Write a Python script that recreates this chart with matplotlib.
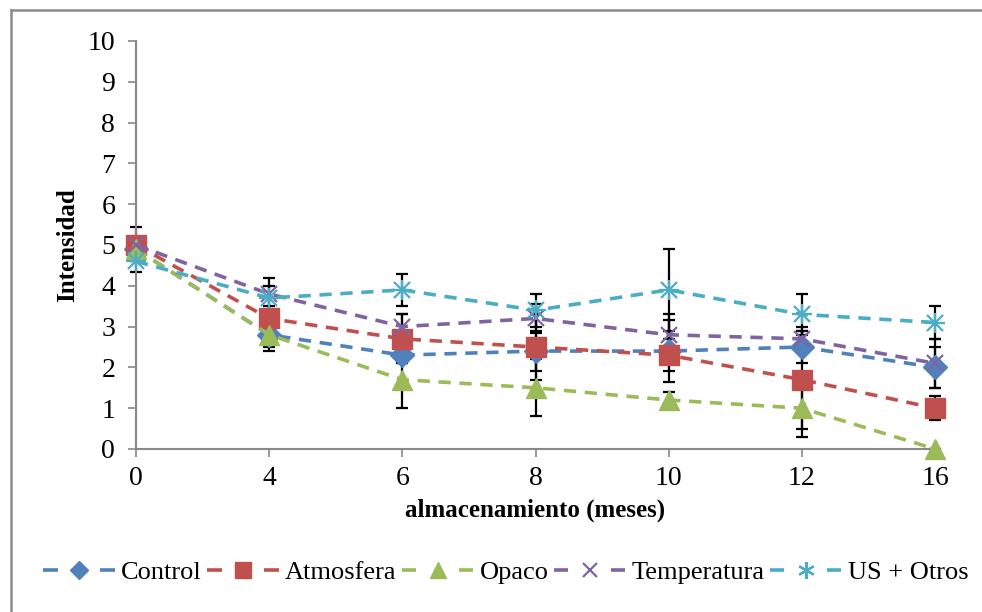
import matplotlib
matplotlib.use("Agg")
import matplotlib.pyplot as plt
from matplotlib.lines import Line2D
from matplotlib.legend_handler import HandlerBase
import numpy as np

months = ["0", "4", "6", "8", "10", "12", "16"]

control = [4.9, 2.8, 2.3, 2.4, 2.4, 2.5, 2.0]
atmosfera = [5.0, 3.2, 2.7, 2.5, 2.3, 1.7, 1.0]
opaco = [4.9, 2.8, 1.7, 1.5, 1.2, 1.0, 0.0]
temperatura = [5.0, 3.8, 3.0, 3.2, 2.8, 2.7, 2.1]
us_otros = [4.6, 3.7, 3.9, 3.4, 3.9, 3.3, 3.1]

err_control = [0.55, 0.4, 0.2, 0.5, 0.75, 0.4, 0.5]
err_atmosfera = [0.0, 0.3, 0.6, 0.8, 0.4, 1.2, 0.3]
err_opaco = [0.0, 0.3, 0.7, 0.7, 0.2, 0.7, 0.0]
err_temperatura = [0.0, 0.4, 0.3, 0.35, 0.5, 0.3, 0.6]
err_us_otros = [0.0, 0.3, 0.4, 0.4, 1.0, 0.5, 0.4]

labels = ["Control", "Atmosfera", "Opaco", "Temperatura", "US + Otros"]
colors = ["#4F81BD", "#C0504D", "#9BBB59", "#8064A2", "#4BACC6"]
markers = ["D", "s", "^", "x", "*"]

series = [control, atmosfera, opaco, temperatura, us_otros]
errors = [err_control, err_atmosfera, err_opaco, err_temperatura, err_us_otros]

plt.rcParams["font.family"] = ["Liberation Serif", "DejaVu Serif"]

fig = plt.figure(figsize=(9.82, 6.12), dpi=100)
ax = fig.add_axes([136 / 982, 1 - 449 / 612, (935 - 136) / 982, (449 - 41) / 612])

x = np.arange(len(months))
msizes = {"D": 12, "s": 14, "^": 14, "x": 12, "*": 13}
dash = (3.4, 2.4)

for vals, errs in zip(series, errors):
    ax.errorbar(x, vals, yerr=errs, fmt="none", ecolor="black",
                elinewidth=1.6, capsize=4.5, capthick=1.6, zorder=2, clip_on=False)
for vals, col, mk in zip(series, colors, markers):
    if mk == "*":
        # asterisk-style marker: plus overlaid with x
        ax.plot(x, vals, color=col, lw=2.6, dashes=dash, clip_on=False,
                marker="+", markersize=15, markeredgewidth=1.6, zorder=3)
        ax.plot(x, vals, ls="none", color=col, marker="x", clip_on=False,
                markersize=12, markeredgewidth=1.6, zorder=3)
    elif mk == "x":
        ax.plot(x, vals, color=col, lw=2.6, dashes=dash, clip_on=False,
                marker="x", markersize=msizes[mk], markeredgewidth=1.6, zorder=3)
    else:
        ax.plot(x, vals, color=col, lw=2.6, dashes=dash, clip_on=False,
                marker=mk, markersize=msizes[mk], markeredgecolor=col, zorder=3)

ax.set_xlim(0, len(months) - 1)
ax.set_ylim(0, 10)
ax.set_xticks(x)
ax.set_xticklabels(months)
ax.set_yticks(range(0, 11))
for s in ["top", "right"]:
    ax.spines[s].set_visible(False)
for s in ["left", "bottom"]:
    ax.spines[s].set_color("#888888")
    ax.spines[s].set_linewidth(1.5)
ax.tick_params(axis="both", direction="out", length=6, width=1.2,
               color="#888888", labelsize=20)
ax.tick_params(axis="y", pad=9)
ax.tick_params(axis="x", pad=6)
ax.set_xlabel("almacenamiento (meses)", fontsize=18, fontweight="bold", labelpad=6)
ax.set_ylabel("Intensidad", fontsize=18, fontweight="bold", labelpad=6)


class DashMarkerHandler(HandlerBase):
    """Legend key: short dash, marker, short dash."""

    def create_artists(self, legend, orig_handle, xdescent, ydescent,
                       width, height, fontsize, trans):
        col = orig_handle.get_color()
        y = height / 2 - ydescent
        seg = width * 0.2
        left = Line2D([-xdescent, -xdescent + seg], [y, y], color=col, lw=2.6,
                      solid_capstyle="butt", transform=trans)
        right = Line2D([-xdescent + width - seg, -xdescent + width], [y, y], color=col,
                       lw=2.6, solid_capstyle="butt", transform=trans)
        mk = Line2D([-xdescent + width / 2], [y], ls="none", color=col,
                    marker=orig_handle.get_marker(),
                    markersize=orig_handle.get_markersize(),
                    markeredgewidth=orig_handle.get_markeredgewidth(),
                    markeredgecolor=col, markerfacecolor=col, transform=trans)
        return [left, right, mk]


handles = []
for col, mk in zip(colors, markers):
    if mk == "*":
        h = Line2D([], [], color=col, marker=(6, 2, 0), markersize=12,
                   markeredgewidth=1.6)
    elif mk == "x":
        h = Line2D([], [], color=col, marker="x", markersize=10, markeredgewidth=1.6)
    else:
        h = Line2D([], [], color=col, marker=mk, markersize=msizes[mk] - 3,
                   markeredgewidth=1.0)
    handles.append(h)
fig.legend(handles, labels, loc="center", bbox_to_anchor=(506 / 982, 1 - 572 / 612),
           ncol=5, frameon=False, fontsize=19, handlelength=2.7,
           handletextpad=0.25, columnspacing=0.2,
           handler_map={Line2D: DashMarkerHandler()})

# chart area border
fig.add_artist(Line2D([11 / 982, 11 / 982], [0, 1 - 10 / 612], color="#8c8c8c", lw=1.8,
                      transform=fig.transFigure))
fig.add_artist(Line2D([11 / 982, 1], [1 - 10 / 612, 1 - 10 / 612], color="#8c8c8c", lw=1.8,
                      transform=fig.transFigure))

fig.savefig("out.png", dpi=100)
